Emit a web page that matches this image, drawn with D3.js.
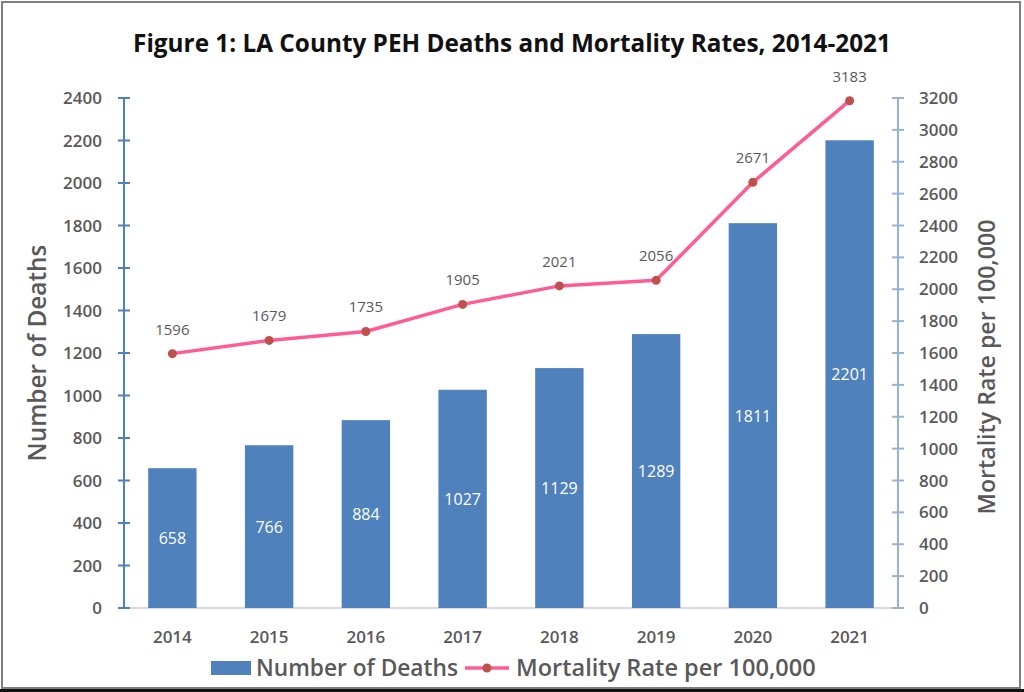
<!DOCTYPE html>
<html>
<head>
<meta charset="utf-8">
<script src="https://cdn.jsdelivr.net/npm/d3@7.9.0/dist/d3.min.js"></script>
<style>
  html, body { margin: 0; padding: 0; background: #fff; }
  svg { display: block; font-family: "Open Sans", Lato, sans-serif; }
</style>
</head>
<body>
<svg id="chart" width="1024" height="692"></svg>
<script>
const years = ['2014', '2015', '2016', '2017', '2018', '2019', '2020', '2021'];
const deaths = [658, 766, 884, 1027, 1129, 1289, 1811, 2201];
const mortalityRate = [1596, 1679, 1735, 1905, 2021, 2056, 2671, 3183];
const leftTicks = d3.range(0, 2401, 200);
const rightTicks = d3.range(0, 3201, 200);

const svg = d3.select('#chart');
const W = 1024, H = 692;
const plot = { left: 124, right: 898, top: 98, bottom: 608 };

// scale text so it spans the same width as in the original
function fitWidth(sel, w) {
  const len = sel.node().getComputedTextLength();
  sel.attr('font-size', +sel.attr('font-size') * w / len);
  return sel;
}

// frame
svg.append('rect')
  .attr('x', 2).attr('y', 2).attr('width', W - 6).attr('height', H - 6)
  .attr('fill', 'none').attr('stroke', '#7f7f7f').attr('stroke-width', 2);
svg.append('rect')
  .attr('x', 0).attr('y', 689).attr('width', W).attr('height', 3)
  .attr('fill', '#111');

const x = d3.scaleBand().domain(years).range([plot.left, plot.right]).paddingInner(0.5).paddingOuter(0.25);
const yLeft = d3.scaleLinear().domain([0, 2400]).range([plot.bottom, plot.top]);
const yRight = d3.scaleLinear().domain([0, 3200]).range([plot.bottom, plot.top]);

// title
fitWidth(svg.append('text')
  .attr('x', 512).attr('y', 52)
  .attr('text-anchor', 'middle')
  .attr('font-size', 20).attr('font-weight', 'bold').attr('fill', '#111')
  .text('Figure 1: LA County PEH Deaths and Mortality Rates, 2014-2021'), 758);

// baseline
svg.append('line')
  .attr('x1', plot.left).attr('x2', plot.right)
  .attr('y1', plot.bottom).attr('y2', plot.bottom)
  .attr('stroke', '#d9d9d9').attr('stroke-width', 2);

// bars
svg.append('g').selectAll('rect')
  .data(deaths)
  .join('rect')
  .attr('x', (d, i) => x(years[i]))
  .attr('width', x.bandwidth())
  .attr('y', d => yLeft(d))
  .attr('height', d => yLeft(0) - yLeft(d))
  .attr('fill', '#4f81bd');

svg.append('g').selectAll('text')
  .data(deaths)
  .join('text')
  .attr('x', (d, i) => x(years[i]) + x.bandwidth() / 2)
  .attr('y', d => (yLeft(d) + yLeft(0)) / 2 + 6)
  .attr('text-anchor', 'middle')
  .attr('font-size', 16).attr('fill', '#fff')
  .text(d => d);

// left axis
const leftAxis = svg.append('g');
leftAxis.append('line')
  .attr('x1', plot.left).attr('x2', plot.left)
  .attr('y1', plot.top).attr('y2', plot.bottom)
  .attr('stroke', '#4f81bd').attr('stroke-width', 2);
leftAxis.selectAll('line.tick')
  .data(leftTicks)
  .join('line')
  .attr('class', 'tick')
  .attr('x1', plot.left - 6).attr('x2', plot.left + 6)
  .attr('y1', d => yLeft(d)).attr('y2', d => yLeft(d))
  .attr('stroke', '#4f81bd').attr('stroke-width', 2);
leftAxis.selectAll('text')
  .data(leftTicks)
  .join('text')
  .attr('x', 102).attr('y', d => yLeft(d) + 6)
  .attr('text-anchor', 'end')
  .attr('font-size', 17).attr('font-weight', 600).attr('fill', '#595959')
  .text(d => d);

// right axis
const rightAxis = svg.append('g');
rightAxis.append('line')
  .attr('x1', plot.right).attr('x2', plot.right)
  .attr('y1', plot.top).attr('y2', plot.bottom)
  .attr('stroke', '#95b3d7').attr('stroke-width', 2);
rightAxis.selectAll('line.tick')
  .data(rightTicks)
  .join('line')
  .attr('class', 'tick')
  .attr('x1', plot.right - 6).attr('x2', plot.right + 6)
  .attr('y1', d => yRight(d)).attr('y2', d => yRight(d))
  .attr('stroke', '#95b3d7').attr('stroke-width', 2);
rightAxis.selectAll('text')
  .data(rightTicks)
  .join('text')
  .attr('x', 919).attr('y', d => yRight(d) + 6)
  .attr('text-anchor', 'start')
  .attr('font-size', 17).attr('font-weight', 600).attr('fill', '#595959')
  .text(d => d);

// x labels
svg.append('g').selectAll('text')
  .data(years)
  .join('text')
  .attr('x', d => x(d) + x.bandwidth() / 2)
  .attr('y', 643)
  .attr('text-anchor', 'middle')
  .attr('font-size', 17).attr('font-weight', 600).attr('fill', '#595959')
  .text(d => d);

// axis titles
fitWidth(svg.append('text')
  .attr('transform', 'translate(46,353) rotate(-90)')
  .attr('text-anchor', 'middle')
  .attr('font-size', 22).attr('font-weight', 600).attr('fill', '#595959')
  .text('Number of Deaths'), 217);
fitWidth(svg.append('text')
  .attr('transform', 'translate(995,367) rotate(-90)')
  .attr('text-anchor', 'middle')
  .attr('font-size', 22).attr('font-weight', 600).attr('fill', '#595959')
  .text('Mortality Rate per 100,000'), 295);

// line
const line = d3.line()
  .x((d, i) => x(years[i]) + x.bandwidth() / 2)
  .y(d => yRight(d));
svg.append('path')
  .datum(mortalityRate)
  .attr('d', line)
  .attr('fill', 'none')
  .attr('stroke', '#ff5c93').attr('stroke-width', 3.5)
  .attr('stroke-linejoin', 'round');
svg.append('g').selectAll('circle')
  .data(mortalityRate)
  .join('circle')
  .attr('cx', (d, i) => x(years[i]) + x.bandwidth() / 2)
  .attr('cy', d => yRight(d))
  .attr('r', 4.5)
  .attr('fill', '#c0504d');
svg.append('g').selectAll('text')
  .data(mortalityRate)
  .join('text')
  .attr('x', (d, i) => x(years[i]) + x.bandwidth() / 2)
  .attr('y', d => yRight(d) - 19)
  .attr('text-anchor', 'middle')
  .attr('font-size', 15).attr('fill', '#595959')
  .text(d => d);

// legend
const legend = svg.append('g');
legend.append('rect')
  .attr('x', 211).attr('y', 661).attr('width', 40).attr('height', 14)
  .attr('fill', '#4f81bd');
fitWidth(legend.append('text')
  .attr('x', 256).attr('y', 676)
  .attr('font-size', 21).attr('font-weight', 600).attr('fill', '#595959')
  .text('Number of Deaths'), 202);
legend.append('line')
  .attr('x1', 465).attr('x2', 509).attr('y1', 668).attr('y2', 668)
  .attr('stroke', '#ff5c93').attr('stroke-width', 3.5);
legend.append('circle')
  .attr('cx', 487).attr('cy', 668).attr('r', 4.5)
  .attr('fill', '#c0504d');
fitWidth(legend.append('text')
  .attr('x', 516).attr('y', 676)
  .attr('font-size', 21).attr('font-weight', 600).attr('fill', '#595959')
  .text('Mortality Rate per 100,000'), 300);
</script>
</body>
</html>
